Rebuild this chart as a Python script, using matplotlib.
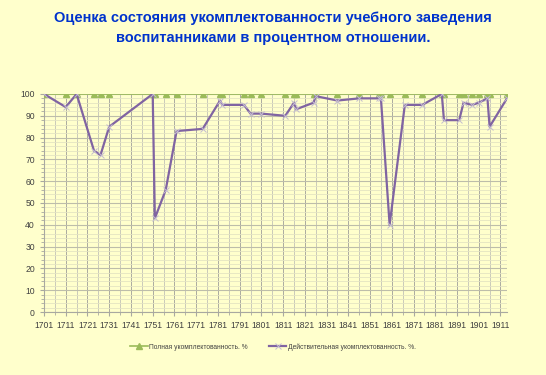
import matplotlib.pyplot as plt
from matplotlib.ticker import MultipleLocator

years = [1701, 1711, 1716, 1724, 1727, 1731, 1751, 1752, 1757, 1762, 1774,
         1782, 1783, 1793, 1796, 1801, 1812, 1816, 1817, 1825, 1826, 1836,
         1846, 1855, 1856, 1860, 1867, 1875, 1884, 1885, 1892, 1894, 1898,
         1901, 1905, 1906, 1914]
actual = [100, 94, 100, 74, 72, 85, 100, 43, 56, 83, 84,
          97, 95, 95, 91, 91, 90, 96, 93, 96, 99, 97,
          98, 98, 98, 40, 95, 95, 100, 88, 88, 96, 95,
          96, 98, 85, 98]
full = [100] * len(years)

label_full = "Полная укомплектованность. %"
label_actual = "Действительная укомплектованность. %."
title = ("Оценка состояния укомплектованности учебного заведения\n"
         "воспитанниками в процентном отношении.")

bg = "#FFFFCC"
plt.rcParams["font.family"] = ["Liberation Sans", "DejaVu Sans"]

fig = plt.figure(figsize=(5.46, 3.75), dpi=100, facecolor=bg)
ax = fig.add_axes([44 / 546, 1 - 312 / 375, 463 / 546, 218 / 375])
ax.set_facecolor(bg)

ax.plot(years, full, color="#9BBB59", lw=1.2, marker="^", ms=4,
        markeredgecolor="#9BBB59", markerfacecolor="#9BBB59", label=label_full, zorder=3)
ax.plot(years, actual, color="#8064A2", lw=1.6, marker="x", ms=4,
        markeredgecolor="#C4BCD0", markeredgewidth=0.7, label=label_actual, zorder=4)

ax.set_xlim(1701, 1914)
ax.set_ylim(0, 100)
ax.xaxis.set_major_locator(MultipleLocator(10, offset=1))
ax.xaxis.set_minor_locator(MultipleLocator(5, offset=1))
ax.yaxis.set_major_locator(MultipleLocator(10))
ax.yaxis.set_minor_locator(MultipleLocator(2))
ax.grid(which="major", axis="y", color="#BDBDAA", lw=0.8)
ax.grid(which="minor", axis="y", color="#E4E4C2", lw=0.6)
ax.grid(which="major", axis="x", color="#ABABA0", lw=0.7)
ax.grid(which="minor", axis="x", color="#CACABA", lw=0.7)

for s in ["top", "right"]:
    ax.spines[s].set_visible(False)
for s in ["left", "bottom"]:
    ax.spines[s].set_color("#A8A8A0")
    ax.spines[s].set_linewidth(0.8)

ax.tick_params(which="both", colors="#A8A8A0", labelcolor="#404040", labelsize=6.2)
ax.tick_params(which="major", length=3)
ax.tick_params(which="minor", length=2)

fig.text(0.5, 0.925, title, ha="center", va="center", color="#0033CC",
         fontsize=10.5, fontweight="bold", linespacing=1.55)

fig.legend(loc="center", bbox_to_anchor=(0.5, 1 - 347 / 375), ncol=2, frameon=False,
           fontsize=4.8, handlelength=2.6, handletextpad=0.2, columnspacing=3.2,
           labelcolor="#404040")

fig.savefig("out.png", dpi=100, facecolor=bg)
